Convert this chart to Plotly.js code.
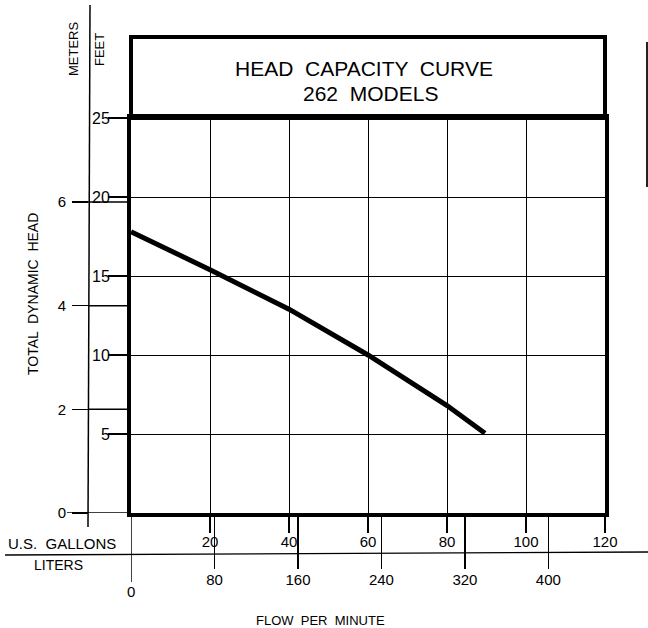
<!DOCTYPE html>
<html>
<head>
<meta charset="utf-8">
<script src="https://cdn.plot.ly/plotly-3.0.1.min.js"></script>
<style>html,body{margin:0;padding:0;background:#fff;}#chart{width:648px;height:628px;}</style>
</head>
<body>
<div id="chart"></div>
<script>
// ---- data ----
const flowGpm = [0, 20, 40, 60, 80, 89.6];          // U.S. gallons per minute
const headFt  = [17.8, 15.4, 12.9, 10.0, 6.8, 5.05]; // total dynamic head, feet
const gallonTicks = [20, 40, 60, 80, 100, 120];
const literTicks  = [80, 160, 240, 320, 400];
const feetTicks   = [5, 10, 15, 20, 25];
const meterTicks  = [0, 2, 4, 6];
const titleLines  = ["HEAD  CAPACITY  CURVE", "262  MODELS"];

const L_PER_GAL = 3.78541, FT_PER_M = 3.28084;
const GAL_MAX = 120, FT_MAX = 25;

// ---- layout helpers (pixel -> paper) ----
const ML = 50, MR = 43, MT = 118, MB = 115, W = 648, H = 628;
const PW = W - ML - MR, PH = H - MT - MB;
const px = X => (X - ML) / PW;
const py = Y => (H - MB - Y) / PH;
const xDom0 = px(131);
const meterLineX = px(88);

const font = {family: "Liberation Sans, Arial, sans-serif", color: "#000"};
const f = s => Object.assign({}, font, {size: s});

const shapes = [
  // title box
  {type: "rect", xref: "paper", yref: "paper", x0: xDom0, x1: 1, y0: 1, y1: py(37),
   line: {color: "#000", width: 4}},
  // meter scale vertical line
  {type: "line", xref: "paper", yref: "paper", x0: meterLineX, x1: px(90), y0: py(527), y1: py(5),
   line: {color: "#000", width: 1.5}},
  // separator between gallon and liter scales
  {type: "line", xref: "paper", yref: "paper", x0: px(5), x1: px(648), y0: py(555), y1: py(552),
   line: {color: "#000", width: 1.3}},
  // liters zero tick
  {type: "line", xref: "x2", yref: "paper", x0: 0, x1: 0, y0: 0, y1: py(582),
   line: {color: "#000", width: 1.5}},
  // scan edge artifact on the right
  {type: "line", xref: "paper", yref: "paper", x0: px(647), x1: px(647), y0: py(187), y1: py(42),
   line: {color: "#222", width: 2}}
];
meterTicks.forEach(m => {
  shapes.push({type: "line", xref: "paper", yref: "y2", x0: m === 0 ? px(67) : meterLineX, x1: xDom0,
               y0: m, y1: m, line: {color: "#000", width: 1.5}});
});

const ann = (text, X, Y, size, extra) => Object.assign({
  text, xref: "paper", yref: "paper", x: px(X), y: py(Y), showarrow: false,
  xanchor: "center", yanchor: "middle", font: f(size)}, extra || {});

const annotations = [
  ann(titleLines[0], 364, 68, 21),
  ann(titleLines[1], 370, 94, 21),
  ann("METERS", 74, 49, 13, {textangle: -90}),
  ann("FEET", 100, 50, 13, {textangle: -90}),
  ann("TOTAL  DYNAMIC  HEAD", 33, 294, 14, {textangle: -90}),
  ann("U.S.  GALLONS", 62, 543, 15),
  ann("LITERS", 58, 565, 14),
  ann("FLOW  PER  MINUTE", 320, 620, 13),
  {text: "0", xref: "x2", yref: "paper", x: 0, y: py(591), showarrow: false,
   xanchor: "center", yanchor: "middle", font: f(15)}
];

const data = [{
  type: "scatter", mode: "lines", x: flowGpm, y: headFt,
  line: {color: "#000", width: 5}, hoverinfo: "skip", showlegend: false
}];

const layout = {
  width: W, height: H,
  margin: {l: ML, r: MR, t: MT, b: MB, pad: 0},
  paper_bgcolor: "#fff", plot_bgcolor: "#fff",
  showlegend: false, font: f(15),
  xaxis: {
    domain: [xDom0, 1], range: [0, GAL_MAX], tickmode: "array", tickvals: gallonTicks,
    ticks: "outside", ticklen: 16, tickwidth: 1.5, tickcolor: "#000", ticklabelstandoff: -4,
    showline: true, linewidth: 4, linecolor: "#000", mirror: true,
    showgrid: true, gridcolor: "#000", gridwidth: 1, zeroline: false,
    tickfont: f(15), fixedrange: true
  },
  xaxis2: {
    overlaying: "x", anchor: "y", side: "bottom",
    range: [0, GAL_MAX * L_PER_GAL], tickmode: "array", tickvals: literTicks,
    ticks: "outside", ticklen: 55, tickwidth: 1.5, tickcolor: "#000", ticklabelstandoff: -2,
    showline: false, showgrid: false, zeroline: false, tickfont: f(15), fixedrange: true
  },
  yaxis: {
    range: [0, FT_MAX], tickmode: "array", tickvals: feetTicks,
    ticks: "outside", ticklen: 19, tickwidth: 1.5, tickcolor: "#000", ticklabelstandoff: -5,
    showline: true, linewidth: 4, linecolor: "#000", mirror: true,
    showgrid: true, gridcolor: "#000", gridwidth: 1, zeroline: false,
    tickfont: f(16), fixedrange: true
  },
  yaxis2: {
    overlaying: "y", anchor: "free", position: meterLineX, side: "left",
    range: [0, FT_MAX / FT_PER_M], tickmode: "array", tickvals: meterTicks,
    ticks: "outside", ticklen: 16, tickwidth: 1.5, tickcolor: "#000", ticklabelstandoff: 3,
    showline: false, showgrid: false, zeroline: false, tickfont: f(15), fixedrange: true
  },
  shapes, annotations
};

Plotly.newPlot("chart", data, layout, {staticPlot: true, displayModeBar: false});
</script>
</body>
</html>
